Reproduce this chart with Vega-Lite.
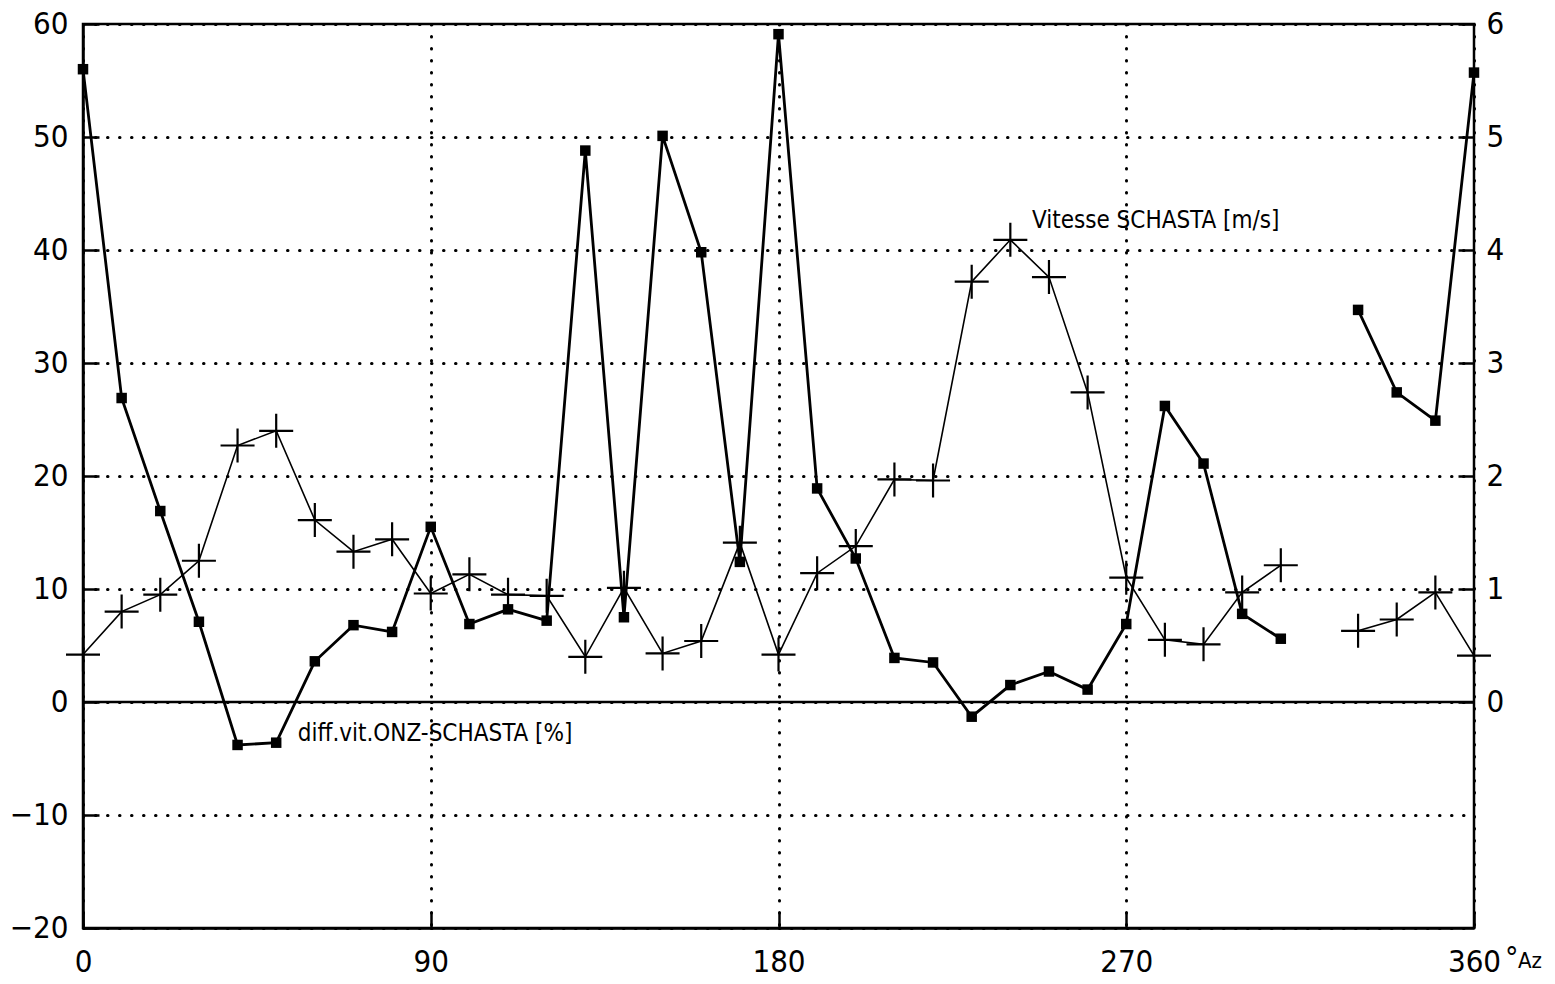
{
  "$schema": "https://vega.github.io/schema/vega-lite/v6.json",
  "width": 1391,
  "height": 904,
  "autosize": "none",
  "padding": {"left": 83, "top": 24, "right": 81, "bottom": 56},
  "background": "white",
  "config": {
    "font": "DejaVu Sans Condensed, DejaVu Sans",
    "view": {"stroke": "black", "strokeWidth": 2.5},
    "axis": {
      "domainColor": "black",
      "domainWidth": 2.5,
      "tickColor": "black",
      "tickWidth": 2.5,
      "tickSize": -16,
      "labelFont": "DejaVu Sans Condensed, DejaVu Sans",
      "labelFontSize": 31,
      "labelColor": "black",
      "title": null,
      "gridColor": "black",
      "gridWidth": 3,
      "gridCap": "round",
      "gridDash": [0.5, 11.5],
      "gridOpacity": 1
    }
  },
  "data": {
    "values": [
      {"az": 0, "diff": 56.0, "speed": 0.42, "seg": "a"},
      {"az": 10, "diff": 26.9, "speed": 0.80, "seg": "a"},
      {"az": 20, "diff": 16.9, "speed": 0.95, "seg": "a"},
      {"az": 30, "diff": 7.1, "speed": 1.25, "seg": "a"},
      {"az": 40, "diff": -3.8, "speed": 2.27, "seg": "a"},
      {"az": 50, "diff": -3.6, "speed": 2.40, "seg": "a"},
      {"az": 60, "diff": 3.6, "speed": 1.61, "seg": "a"},
      {"az": 70, "diff": 6.8, "speed": 1.33, "seg": "a"},
      {"az": 80, "diff": 6.2, "speed": 1.44, "seg": "a"},
      {"az": 90, "diff": 15.5, "speed": 0.96, "seg": "a"},
      {"az": 100, "diff": 6.9, "speed": 1.13, "seg": "a"},
      {"az": 110, "diff": 8.2, "speed": 0.95, "seg": "a"},
      {"az": 120, "diff": 7.2, "speed": 0.94, "seg": "a"},
      {"az": 130, "diff": 48.8, "speed": 0.40, "seg": "a"},
      {"az": 140, "diff": 7.5, "speed": 1.01, "seg": "a"},
      {"az": 150, "diff": 50.1, "speed": 0.43, "seg": "a"},
      {"az": 160, "diff": 39.8, "speed": 0.54, "seg": "a"},
      {"az": 170, "diff": 12.4, "speed": 1.41, "seg": "a"},
      {"az": 180, "diff": 59.1, "speed": 0.42, "seg": "a"},
      {"az": 190, "diff": 18.9, "speed": 1.14, "seg": "a"},
      {"az": 200, "diff": 12.7, "speed": 1.38, "seg": "a"},
      {"az": 210, "diff": 3.9, "speed": 1.97, "seg": "a"},
      {"az": 220, "diff": 3.5, "speed": 1.96, "seg": "a"},
      {"az": 230, "diff": -1.3, "speed": 3.72, "seg": "a"},
      {"az": 240, "diff": 1.5, "speed": 4.09, "seg": "a"},
      {"az": 250, "diff": 2.7, "speed": 3.76, "seg": "a"},
      {"az": 260, "diff": 1.1, "speed": 2.74, "seg": "a"},
      {"az": 270, "diff": 6.9, "speed": 1.10, "seg": "a"},
      {"az": 280, "diff": 26.2, "speed": 0.55, "seg": "a"},
      {"az": 290, "diff": 21.1, "speed": 0.51, "seg": "a"},
      {"az": 300, "diff": 7.8, "speed": 0.97, "seg": "a"},
      {"az": 310, "diff": 5.6, "speed": 1.21, "seg": "a"},
      {"az": 330, "diff": 34.7, "speed": 0.63, "seg": "b"},
      {"az": 340, "diff": 27.4, "speed": 0.73, "seg": "b"},
      {"az": 350, "diff": 24.9, "speed": 0.97, "seg": "b"},
      {"az": 360, "diff": 55.7, "speed": 0.41, "seg": "b"}
    ]
  },
  "encoding": {
    "x": {
      "field": "az",
      "type": "quantitative",
      "scale": {"domain": [0, 360], "nice": false, "zero": false},
      "axis": {
        "values": [0, 90, 180, 270, 360],
        "grid": true,
        "labelPadding": 35,
        "labelFlush": false,
        "title": null
      }
    }
  },
  "layer": [
    {
      "encoding": {
        "y": {
          "field": "diff",
          "type": "quantitative",
          "scale": {"domain": [-20, 60], "nice": false, "zero": false},
          "axis": {
            "orient": "left",
            "values": [-20, -10, 0, 10, 20, 30, 40, 50, 60],
            "grid": true,
            "labelPadding": 31,
            "labelFlush": false,
            "title": null
          }
        }
      },
      "layer": [
        {
          "transform": [{"filter": "datum.az == 0"}],
          "mark": {"type": "rule", "color": "black", "strokeWidth": 2.5},
          "encoding": {"y": {"datum": 0, "type": "quantitative"}, "x": {"value": 0}, "x2": {"value": 1391}}
        },
        {
          "mark": {"type": "line", "color": "black", "strokeWidth": 2.8},
          "encoding": {"detail": {"field": "seg"}}
        },
        {
          "mark": {"type": "point", "shape": "square", "filled": true, "color": "black", "size": 110, "opacity": 1},
          "encoding": {}
        },
        {
          "transform": [{"filter": "datum.az == 0"}],
          "mark": {"type": "text", "align": "left", "baseline": "middle", "fontSize": 24, "color": "black"},
          "encoding": {
            "x": {"datum": 245.6, "type": "quantitative"},
            "y": {"datum": 42.6, "type": "quantitative"},
            "text": {"value": "Vitesse SCHASTA [m/s]"}
          }
        },
        {
          "transform": [{"filter": "datum.az == 0"}],
          "mark": {"type": "text", "align": "left", "baseline": "middle", "fontSize": 24, "color": "black"},
          "encoding": {
            "x": {"datum": 55.6, "type": "quantitative"},
            "y": {"datum": -2.8, "type": "quantitative"},
            "text": {"value": "diff.vit.ONZ-SCHASTA [%]"}
          }
        },
        {
          "transform": [{"filter": "datum.az == 0"}],
          "mark": {"type": "text", "align": "left", "baseline": "alphabetic", "fontSize": 30, "color": "black", "dx": 31, "dy": 40},
          "encoding": {
            "x": {"datum": 360, "type": "quantitative"},
            "y": {"datum": -20, "type": "quantitative"},
            "text": {"value": "°"}
          }
        },
        {
          "transform": [{"filter": "datum.az == 0"}],
          "mark": {"type": "text", "align": "left", "baseline": "alphabetic", "fontSize": 22, "color": "black", "dx": 44, "dy": 40},
          "encoding": {
            "x": {"datum": 360, "type": "quantitative"},
            "y": {"datum": -20, "type": "quantitative"},
            "text": {"value": "Az"}
          }
        }
      ]
    },
    {
      "encoding": {
        "y": {
          "field": "speed",
          "type": "quantitative",
          "scale": {"domain": [-2, 6], "nice": false, "zero": false},
          "axis": {
            "orient": "right",
            "values": [0, 1, 2, 3, 4, 5, 6],
            "grid": false,
            "domain": false,
            "labelPadding": 28,
            "labelFlush": false,
            "title": null
          }
        }
      },
      "layer": [
        {
          "mark": {"type": "line", "color": "black", "strokeWidth": 1.6},
          "encoding": {"detail": {"field": "seg"}}
        },
        {
          "mark": {"type": "point", "shape": "M-1,0H1M0,-1V1", "filled": false, "color": "black", "strokeWidth": 2.2, "size": 1156, "opacity": 1},
          "encoding": {}
        }
      ]
    }
  ],
  "resolve": {"scale": {"y": "independent"}}
}
